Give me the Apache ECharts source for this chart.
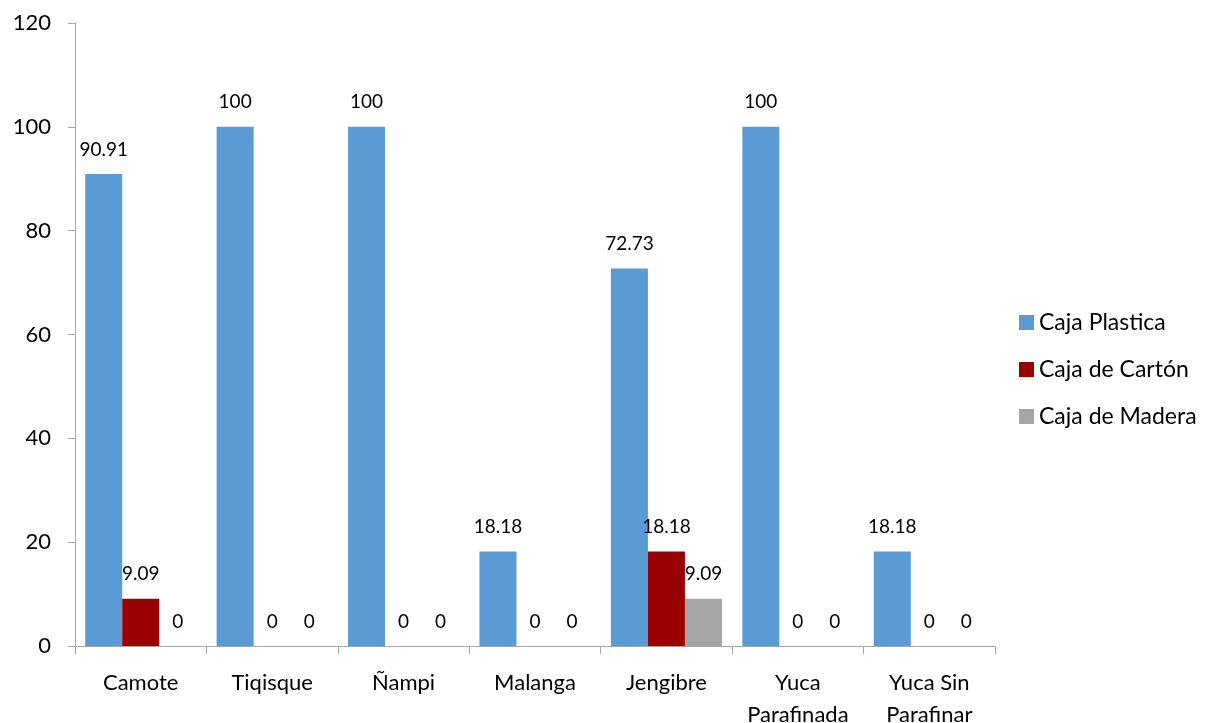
<!DOCTYPE html>
<html>
<head>
<meta charset="utf-8">
<script src="https://cdn.jsdelivr.net/npm/echarts@6/dist/echarts.min.js"></script>
<style>
  html, body { margin: 0; padding: 0; background: #fff; }
  #chart { width: 1211px; height: 723px; }
</style>
</head>
<body>
<div id="chart"></div>
<script>
const categories = ['Camote', 'Tiqisque', 'Ñampi', 'Malanga', 'Jengibre', 'Yuca\nParafinada', 'Yuca Sin\nParafinar'];
const cajaPlastica = [90.91, 100, 100, 18.18, 72.73, 100, 18.18];
const cajaCarton = [9.09, 0, 0, 0, 18.18, 0, 0];
const cajaMadera = [0, 0, 0, 0, 9.09, 0, 0];
const seriesNames = ['Caja Plastica', 'Caja de Cartón', 'Caja de Madera'];
const colors = ['#5b9bd5', '#990000', '#a5a5a5'];

const font = 'Lato, "Open Sans", sans-serif';
const chart = echarts.init(document.getElementById('chart'));

function barSeries(name, data, color) {
  return {
    name: name,
    type: 'bar',
    data: data,
    barGap: '0%',
    barCategoryGap: '15.5%',
    itemStyle: { color: color },
    label: {
      show: true,
      position: 'top',
      distance: 15,
      color: '#000',
      fontSize: 19,
      fontFamily: font
    },
    emphasis: { disabled: true }
  };
}

chart.setOption({
  animation: false,
  color: colors,
  textStyle: { fontFamily: font },
  grid: { left: 75, right: 216, top: 23, bottom: 77, containLabel: false, outerBoundsMode: 'none' },
  legend: {
    orient: 'vertical',
    left: 1014,
    top: 306,
    itemWidth: 15,
    itemHeight: 15,
    itemGap: 24,
    icon: 'rect',
    textStyle: { fontSize: 23, color: '#000', fontFamily: font },
    data: seriesNames
  },
  xAxis: {
    type: 'category',
    data: categories,
    axisLine: { lineStyle: { color: '#a6a6a6', width: 1 } },
    axisTick: { show: true, length: 8, alignWithLabel: false, lineStyle: { color: '#a6a6a6' } },
    axisLabel: { color: '#000', fontSize: 22, margin: 21, lineHeight: 32, fontFamily: font, interval: 0 }
  },
  yAxis: {
    type: 'value',
    min: 0,
    max: 120,
    interval: 20,
    splitLine: { show: false },
    axisLine: { show: true, lineStyle: { color: '#a6a6a6', width: 1 } },
    axisTick: { show: true, length: 7, lineStyle: { color: '#a6a6a6' } },
    axisLabel: { color: '#000', fontSize: 22, margin: 24, fontFamily: font }
  },
  series: [
    barSeries(seriesNames[0], cajaPlastica, colors[0]),
    barSeries(seriesNames[1], cajaCarton, colors[1]),
    barSeries(seriesNames[2], cajaMadera, colors[2])
  ]
});
</script>
</body>
</html>
